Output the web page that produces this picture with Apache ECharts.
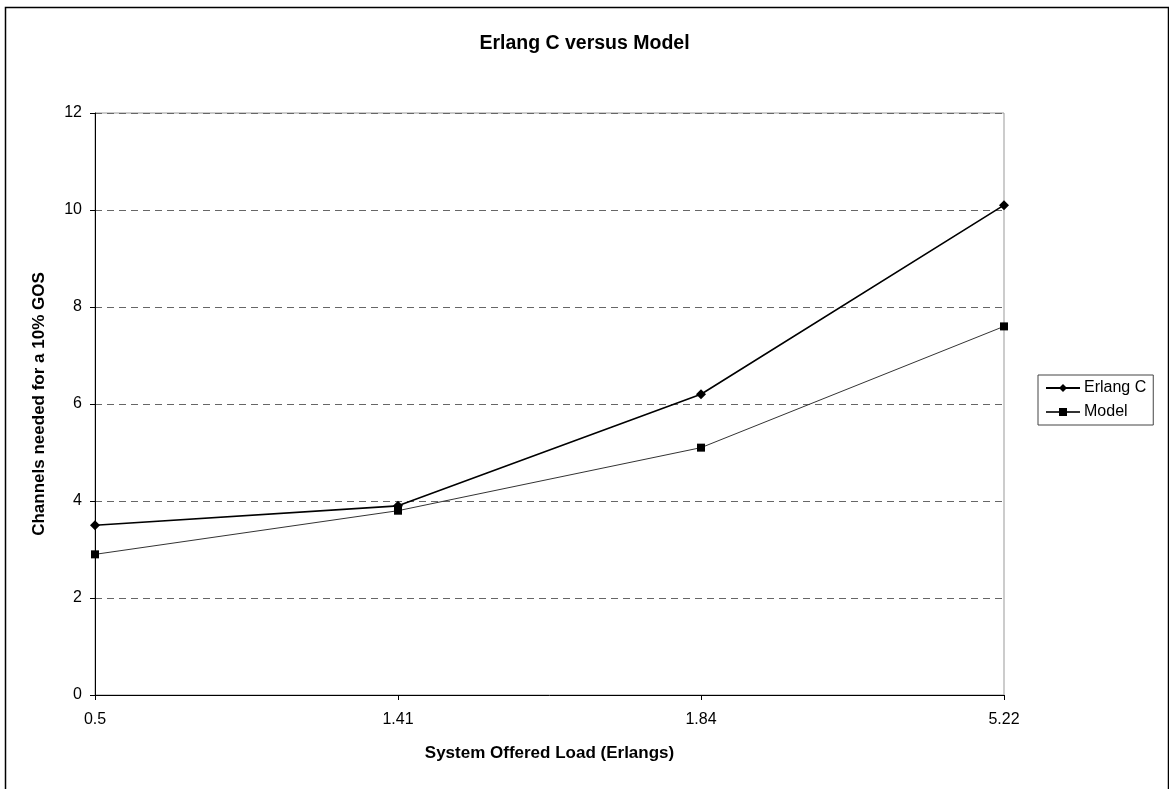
<!DOCTYPE html>
<html><head><meta charset="utf-8">
<script src="https://cdn.jsdelivr.net/npm/echarts@6/dist/echarts.min.js"></script>
<style>html,body{margin:0;padding:0;background:#fff}#c{width:1169px;height:789px}</style>
</head><body><div id="c"></div>
<script>
const categories = ['0.5', '1.41', '1.84', '5.22'];
const erlangC = [3.5, 3.9, 6.2, 10.1];
const model = [2.9, 3.8, 5.1, 7.6];
const yTicks = [0, 2, 4, 6, 8, 10, 12];

const chart = echarts.init(document.getElementById('c'), null, {renderer: 'canvas'});
const font = 'Liberation Sans, Arial, sans-serif';
chart.setOption({
  animation: false,
  backgroundColor: '#fff',
  title: {
    text: 'Erlang C versus Model', left: 'center', top: 29,
    textStyle: {fontFamily: font, fontSize: 19.5, fontWeight: 'bold', color: '#000'}
  },
  graphic: [{
    type: 'rect', left: 3, top: 5, shape: {width: 1163, height: 790},
    style: {fill: 'none', stroke: '#000', lineWidth: 1.5}, silent: true
  }],
  legend: {
    orient: 'vertical', left: 1038, top: 375,
    padding: [5, 7, 5, 7], itemGap: 8,
    borderColor: '#444', borderWidth: 1,
    itemWidth: 34, itemHeight: 10,
    textStyle: {fontFamily: font, fontSize: 16, color: '#000', padding: [0, 0, 0, -1]},
    data: ['Erlang C', 'Model']
  },
  grid: {
    left: 95, right: 165, top: 113, bottom: 94,
    show: true, borderColor: '#999', borderWidth: 1, backgroundColor: 'transparent'
  },
  xAxis: {
    type: 'category', data: categories, boundaryGap: false,
    name: 'System Offered Load (Erlangs)', nameLocation: 'middle', nameGap: 50,
    nameTextStyle: {fontFamily: font, fontSize: 17, fontWeight: 'bold', color: '#000'},
    axisLine: {lineStyle: {color: '#000', width: 1}},
    axisTick: {show: true, length: 5, alignWithLabel: true, lineStyle: {color: '#000'}},
    axisLabel: {fontFamily: font, fontSize: 16, color: '#000', margin: 17},
    splitLine: {show: false}
  },
  yAxis: {
    type: 'value', min: 0, max: 12, interval: 2,
    name: 'Channels needed for a 10% GOS', nameLocation: 'middle', nameGap: 47,
    nameTextStyle: {fontFamily: font, fontSize: 17, fontWeight: 'bold', color: '#000'},
    axisLine: {show: true, lineStyle: {color: '#000', width: 1}},
    axisTick: {show: true, length: 5, lineStyle: {color: '#000'}},
    axisLabel: {fontFamily: font, fontSize: 16, color: '#000', margin: 13,
      formatter: v => yTicks.includes(v) ? String(v) : ''},
    splitLine: {show: true, lineStyle: {color: '#666', type: [7, 5], width: 1}}
  },
  series: [
    {
      name: 'Erlang C', type: 'line', data: erlangC,
      symbol: 'diamond', symbolSize: 10,
      lineStyle: {color: '#000', width: 1.6},
      itemStyle: {color: '#000'}
    },
    {
      name: 'Model', type: 'line', data: model,
      symbol: 'rect', symbolSize: 8,
      lineStyle: {color: '#333', width: 1},
      itemStyle: {color: '#000'}
    }
  ]
});
</script>
</body></html>
